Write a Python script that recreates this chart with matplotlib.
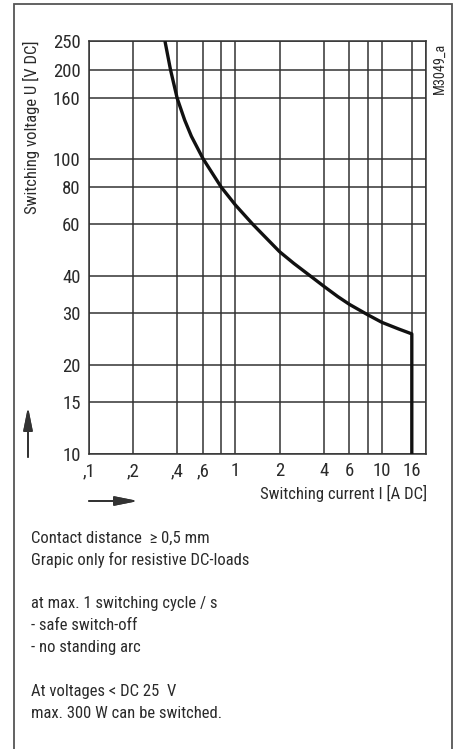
#python3
import matplotlib.pyplot as plt
from matplotlib import font_manager
from matplotlib.patches import Rectangle

# Load limit curve
current = [0.33, 0.36, 0.4, 0.45, 0.5, 0.6, 0.7, 0.8, 1.0, 1.31, 1.5, 2.0,
           2.5, 3.3, 4.0, 5.0, 6.0, 8.0, 10.0, 13.0, 16.0, 16.0]
voltage = [250, 200, 160, 135, 119, 100, 88.7, 80, 69.6, 60, 56, 48.4,
           44.2, 39.8, 37.0, 34.1, 32.1, 29.6, 27.9, 26.5, 25.5, 10]

x_grid = [0.1, 0.2, 0.4, 0.6, 0.8, 1, 2, 4, 6, 8, 10, 16, 20]
x_ticks = [0.1, 0.2, 0.4, 0.6, 1, 2, 4, 6, 10, 16]
x_labels = [",1", ",2", ",4", ",6", "1", "2", "4", "6", "10", "16"]
y_ticks = [10, 15, 20, 30, 40, 60, 80, 100, 160, 200, 250]
y_labels = ["10", "15", "20", "30", "40", "60", "80", "100", "160", "200", "250"]

notes = [
    "Contact distance  \u2265 0,5 mm",
    "Grapic only for resistive DC-loads",
    "",
    "at max. 1 switching cycle / s",
    "- safe switch-off",
    "- no standing arc",
    "",
    "At voltages < DC 25  V",
    "max. 300 W can be switched.",
]

# the original uses a condensed grotesque; take the narrowest one available
names = {f.name for f in font_manager.fontManager.ttflist}
narrow = next((n for n in ["Liberation Sans Narrow", "Roboto Condensed", "Open Sans Condensed",
                           "Noto Sans Condensed"] if n in names), None)
if narrow:
    plt.rcParams['font.family'] = [narrow, 'DejaVu Sans']
else:
    plt.rcParams['font.family'] = ['DejaVu Sans']

txt = "#2a2a2a"
W, H = 460, 749

fig = plt.figure(figsize=(4.6, 7.49), dpi=100)
ax = fig.add_axes([89 / W, 1 - 454 / H, 337 / W, 413 / H])
ax.set_xscale("log")
ax.set_yscale("log")
ax.set_xlim(0.1, 20)
ax.set_ylim(10, 250)

# grid drawn by hand so every line matches the original
for gx in x_grid:
    ax.axvline(gx, color="#333333", lw=1.1, zorder=1)
for gy in y_ticks:
    ax.axhline(gy, color="#333333", lw=1.1, zorder=1)

ax.plot(current, voltage, color="#111111", lw=2.4, zorder=3,
        solid_capstyle="butt", solid_joinstyle="round")

ax.xaxis.set_minor_locator(plt.NullLocator())
ax.set_xticks(x_ticks, x_labels)
ax.yaxis.set_minor_locator(plt.NullLocator())
ax.set_yticks(y_ticks, y_labels)
ax.tick_params(length=0, labelsize=13.5, colors=txt, pad=6)
for s in ax.spines.values():
    s.set_color("#333333")
    s.set_linewidth(1.1)

fig.text(31 / W, 1 - 40 / H, "Switching voltage U [V DC]", rotation=90,
         ha="center", va="top", fontsize=12, color=txt)
fig.text(427 / W, 1 - 493 / H, "Switching current I [A DC]",
         ha="right", va="center", fontsize=12, color=txt)
fig.text(440 / W, 1 - 43 / H, "M3049_a", rotation=90,
         ha="center", va="top", fontsize=10.3, color=txt)

# direction arrows
arrow = dict(arrowstyle="-|>,head_length=1.4,head_width=0.28", color="#333333",
             lw=1.3, mutation_scale=10, shrinkA=0, shrinkB=0)
fig.add_artist(plt.annotate("", xy=(28 / W, 1 - 407 / H), xytext=(28 / W, 1 - 457 / H),
                            xycoords="figure fraction", arrowprops=arrow))
fig.add_artist(plt.annotate("", xy=(138 / W, 1 - 501 / H), xytext=(89 / W, 1 - 501 / H),
                            xycoords="figure fraction", arrowprops=arrow))

for i, line in enumerate(notes):
    fig.text(31 / W, 1 - (538 + 21.9 * i) / H, line, ha="left", va="center",
             fontsize=12, color=txt)

# outer frame
fig.add_artist(Rectangle((14 / W, -0.01), 438 / W, 1.01 - 4 / H,
                         transform=fig.transFigure, fill=False,
                         edgecolor="#555555", lw=1.3))

fig.savefig("out.png", dpi=100)
